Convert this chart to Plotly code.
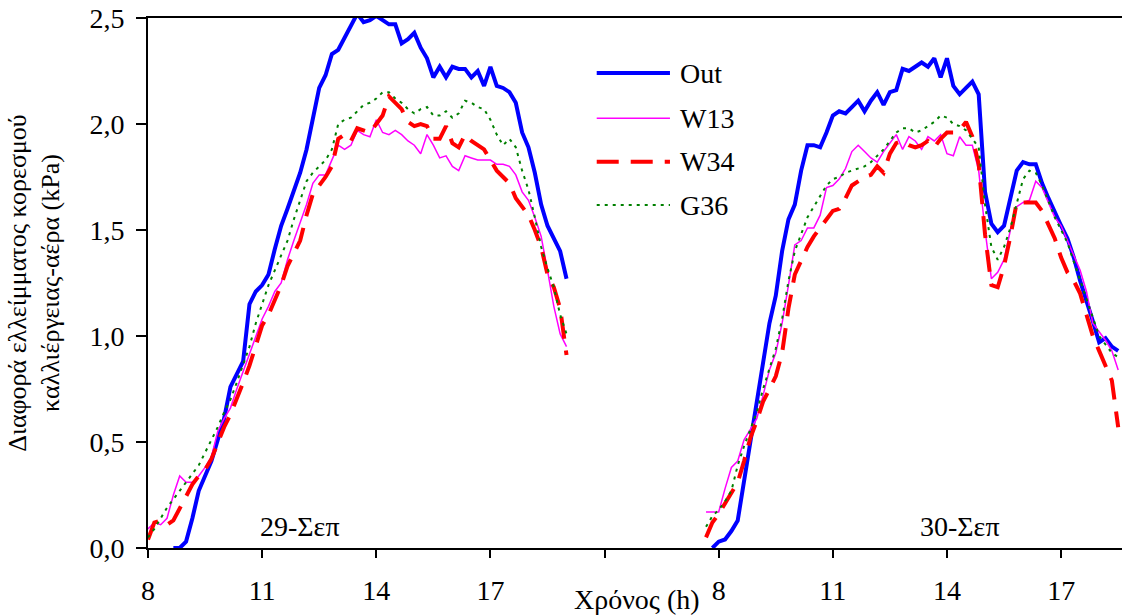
import plotly.graph_objects as go

# ---------------- data (10-min samples) ----------------
STEP_H = 10 / 60
DAY1_START_H = 8.0            # 29-Σεπ first sample 08:00
DAY2_START_H = 7 + 40 / 60    # 30-Σεπ first sample 07:40
DAY2_AXIS_SHIFT = 15          # night is compressed: 08:00 of day 2 sits 15 h after 08:00 of day 1

day_labels = ["29-Σεπ", "30-Σεπ"]
series_names = ["Out", "W13", "W34", "G36"]

out_d1 = [None, None, None, None, 0.00, 0.00,
          0.03, 0.14, 0.27, 0.34, 0.41, 0.51,
          0.61, 0.76, 0.82, 0.88, 1.15, 1.21,
          1.24, 1.29, 1.41, 1.52, 1.60, 1.69,
          1.77, 1.88, 2.02, 2.17, 2.23, 2.33,
          2.35, 2.41, 2.46, 2.52, 2.48, 2.49,
          2.51, 2.49, 2.47, 2.47, 2.38, 2.40,
          2.43, 2.36, 2.31, 2.22, 2.27, 2.22,
          2.27, 2.26, 2.26, 2.22, 2.25, 2.18,
          2.27, 2.18, 2.17, 2.15, 2.10, 1.96,
          1.89, 1.77, 1.62, 1.52, 1.46, 1.40,
          1.27]
w13_d1 = [0.09, 0.12, 0.11, 0.14, 0.25, 0.34,
          0.31, 0.31, 0.34, 0.38, 0.43, 0.55,
          0.61, 0.66, 0.75, 0.83, 0.91, 0.99,
          1.08, 1.14, 1.21, 1.25, 1.36, 1.45,
          1.53, 1.62, 1.72, 1.76, 1.76, 1.83,
          1.90, 1.88, 1.90, 1.97, 1.95, 1.94,
          2.02, 1.96, 1.95, 1.97, 1.95, 1.92,
          1.90, 1.86, 1.95, 1.90, 1.84, 1.85,
          1.80, 1.78, 1.85, 1.84, 1.83, 1.83,
          1.83, 1.81, 1.81, 1.80, 1.76, 1.68,
          1.64, 1.56, 1.47, 1.31, 1.14, 1.01,
          0.95]
w34_d1 = [0.04, 0.12, 0.13, 0.11, 0.13, 0.19,
          0.25, 0.30, 0.34, 0.37, 0.42, 0.50,
          0.57, 0.63, 0.70, 0.78, 0.86, 0.96,
          1.05, 1.10, 1.17, 1.24, 1.33, 1.39,
          1.45, 1.57, 1.67, 1.71, 1.75, 1.80,
          1.93, 1.95, 1.92, 1.98, 1.97, 1.96,
          2.00, 2.04, 2.13, 2.10, 2.07, 2.01,
          1.99, 2.00, 1.99, 1.93, 1.93, 1.99,
          1.91, 1.89, 1.95, 1.92, 1.90, 1.88,
          1.83, 1.78, 1.75, 1.72, 1.65, 1.61,
          1.57, 1.50, 1.42, 1.29, 1.23, 1.13,
          0.91]
g36_d1 = [0.05, 0.09, 0.14, 0.19, 0.23, 0.27,
          0.31, 0.35, 0.39, 0.45, 0.51, 0.57,
          0.64, 0.70, 0.78, 0.86, 0.95, 1.06,
          1.15, 1.24, 1.31, 1.38, 1.45, 1.55,
          1.64, 1.73, 1.77, 1.80, 1.83, 1.88,
          2.00, 2.02, 2.03, 2.06, 2.09, 2.10,
          2.12, 2.15, 2.15, 2.12, 2.10, 2.07,
          2.05, 2.07, 2.08, 2.04, 2.04, 2.06,
          2.03, 2.05, 2.11, 2.10, 2.08, 2.07,
          2.02, 1.95, 1.90, 1.93, 1.89, 1.78,
          1.69, 1.56, 1.42, 1.32, 1.23, 1.10,
          1.01]

out_d2 = [None, 0.00,
          0.03, 0.04, 0.08, 0.13, 0.32, 0.50,
          0.69, 0.87, 1.06, 1.19, 1.40, 1.55,
          1.62, 1.78, 1.90, 1.90, 1.89, 1.96,
          2.04, 2.06, 2.05, 2.08, 2.11, 2.06,
          2.11, 2.15, 2.09, 2.15, 2.16, 2.26,
          2.25, 2.27, 2.29, 2.27, 2.31, 2.22,
          2.31, 2.18, 2.14, 2.17, 2.20, 2.14,
          1.68, 1.53, 1.49, 1.52, 1.66, 1.78,
          1.82, 1.81, 1.81, 1.72, 1.65, 1.58,
          1.52, 1.46, 1.37, 1.26, 1.17, 1.07,
          0.97, 0.99, 0.95, 0.93]
w13_d2 = [0.17, 0.17,
          0.17, 0.28, 0.38, 0.41, 0.51, 0.56,
          0.61, 0.72, 0.84, 0.92, 1.06, 1.24,
          1.43, 1.45, 1.51, 1.51, 1.57, 1.70,
          1.71, 1.74, 1.79, 1.87, 1.90, 1.87,
          1.84, 1.82, 1.87, 1.91, 1.95, 1.88,
          1.94, 1.92, 1.88, 1.94, 1.92, 1.95,
          1.86, 1.85, 1.94, 1.90, 1.90, 1.78,
          1.50, 1.27, 1.30, 1.36, 1.50, 1.61,
          1.63, 1.64, 1.73, 1.70, 1.63, 1.56,
          1.52, 1.45, 1.38, 1.31, 1.21, 1.06,
          1.02, 0.98, 0.93, 0.84]
w34_d2 = [0.05, 0.12,
          0.16, 0.21, 0.26, 0.31, 0.41, 0.52,
          0.60, 0.69, 0.75, 0.81, 0.92, 1.13,
          1.29, 1.36, 1.42, 1.47, 1.51, 1.55,
          1.59, 1.60, 1.65, 1.71, 1.73, 1.75,
          1.76, 1.80, 1.77, 1.86, 1.91, 1.92,
          1.90, 1.89, 1.90, 1.92, 1.89, 1.93,
          1.96, 1.96, 1.97, 2.01, 1.94, 1.81,
          1.48, 1.24, 1.23, 1.33, 1.47, 1.63,
          1.63, 1.63, 1.63, 1.59, 1.53, 1.46,
          1.37, 1.30, 1.26, 1.20, 1.10, 1.00,
          0.93, 0.86, 0.79, 0.57]
g36_d2 = [0.10, 0.15,
          0.18, 0.22, 0.27, 0.39, 0.48, 0.56,
          0.64, 0.75, 0.84, 0.94, 1.08, 1.26,
          1.40, 1.48, 1.56, 1.61, 1.66, 1.71,
          1.74, 1.75, 1.77, 1.78, 1.79, 1.80,
          1.82, 1.85, 1.88, 1.92, 1.96, 1.98,
          1.98, 1.96, 1.97, 1.99, 2.01, 2.04,
          2.03, 2.00, 1.99, 1.97, 1.93, 1.89,
          1.62, 1.42, 1.36, 1.42, 1.51, 1.62,
          1.74, 1.78, 1.77, 1.71, 1.63, 1.56,
          1.50, 1.44, 1.35, 1.26, 1.17, 1.08,
          1.00, 0.96, 0.92, 0.90]

tick_hours_d1 = [8, 11, 14, 17, 20]
tick_text_d1 = ["8", "11", "14", "17", ""]
tick_hours_d2 = [8, 11, 14, 17]
tick_text_d2 = ["8", "11", "14", "17"]
y_ticks = [0.0, 0.5, 1.0, 1.5, 2.0, 2.5]

# ---------------- styles ----------------
styles = {
    "Out": dict(color="#0000FF", width=4, dash="solid"),
    "W13": dict(color="#FF00FF", width=1.5, dash="solid"),
    "W34": dict(color="#FF0000", width=4, dash="22px,12px"),
    "G36": dict(color="#008000", width=2, dash="3px,5px"),
}
FONT = "Liberation Serif"
FS = 28

hours_d1 = [DAY1_START_H + i * STEP_H for i in range(len(out_d1))]
hours_d2 = [DAY2_START_H + i * STEP_H for i in range(len(out_d2))]
x_all = hours_d1 + [None] + [h + DAY2_AXIS_SHIFT for h in hours_d2]

data = {
    "Out": (out_d1, out_d2),
    "W13": (w13_d1, w13_d2),
    "W34": (w34_d1, w34_d2),
    "G36": (g36_d1, g36_d2),
}

fig = go.Figure()
for name in series_names:
    d1, d2 = data[name]
    fig.add_trace(go.Scatter(
        x=x_all, y=d1 + [None] + d2, mode="lines", name=name,
        line=styles[name], showlegend=False, connectgaps=False,
    ))

# manual legend (long line samples like the original)
leg_y = [0.896, 0.811, 0.729, 0.647]
for name, yy in zip(series_names, leg_y):
    st = styles[name]
    fig.add_shape(type="line", xref="paper", yref="paper",
                  x0=0.4607, x1=0.5359, y0=yy, y1=yy,
                  line=dict(color=st["color"], width=st["width"], dash=st["dash"]))
    fig.add_annotation(xref="paper", yref="paper", x=0.5441, y=yy, text=name,
                       showarrow=False, xanchor="left", yanchor="middle",
                       font=dict(family=FONT, size=FS, color="black"))

# day labels
fig.add_annotation(x=12.0, y=0.10, text=day_labels[0], showarrow=False,
                   font=dict(family=FONT, size=FS, color="black"))
fig.add_annotation(x=14.35 + DAY2_AXIS_SHIFT, y=0.10, text=day_labels[1], showarrow=False,
                   font=dict(family=FONT, size=FS, color="black"))
# x axis title
fig.add_annotation(xref="paper", yref="paper", x=0.502, y=-0.098, text="Χρόνος (h)",
                   showarrow=False, xanchor="center", yanchor="middle",
                   font=dict(family=FONT, size=FS, color="black"))

fig.update_layout(
    width=1122, height=615,
    margin=dict(l=148, r=0, t=18, b=67),
    paper_bgcolor="white", plot_bgcolor="white",
    separators=",.",
    font=dict(family=FONT, size=FS, color="black"),
    showlegend=False,
)
fig.update_xaxes(
    range=[8, 33.6], tickmode="array",
    tickvals=tick_hours_d1 + [h + DAY2_AXIS_SHIFT for h in tick_hours_d2],
    ticktext=tick_text_d1 + tick_text_d2,
    ticks="outside", ticklen=8, tickwidth=2, tickcolor="black",
    showline=True, linewidth=2, linecolor="black", mirror=True,
    showgrid=False, zeroline=False, ticklabelstandoff=8,
    tickfont=dict(family=FONT, size=FS, color="black"),
)
fig.update_yaxes(
    range=[0, 2.5], tickmode="array", tickvals=y_ticks, tickformat=".1f",
    ticks="outside", ticklen=10, tickwidth=2, tickcolor="black",
    showline=True, linewidth=2, linecolor="black",
    showgrid=False, zeroline=False, ticklabelstandoff=6,
    tickfont=dict(family=FONT, size=FS, color="black"),
    title=dict(text="Διαφορά ελλείμματος κορεσμού<br>καλλιέργειας-αέρα (kPa)",
               font=dict(family=FONT, size=26, color="black"), standoff=22),
)

fig.write_html("out.html", config={"displayModeBar": False},
               post_script="document.body.style.margin='0';")
